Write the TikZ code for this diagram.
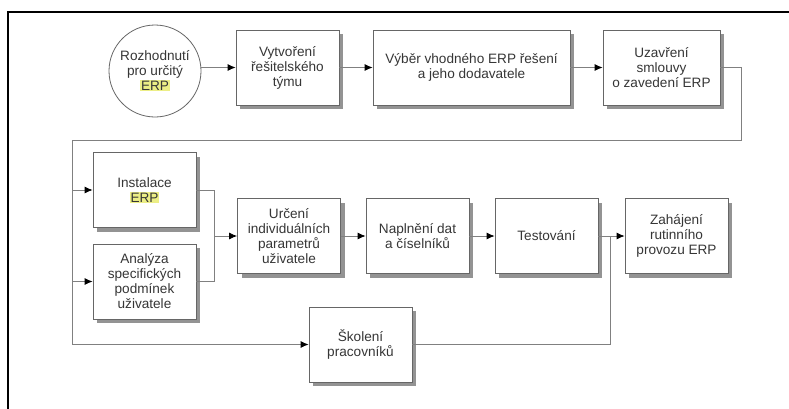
\documentclass[tikz,border=0pt]{standalone}
\usepackage{fontspec}
\setmainfont{Liberation Sans}
\usetikzlibrary{arrows.meta,shadows}
\definecolor{txt}{HTML}{363636}
\definecolor{edge}{HTML}{666666}
\definecolor{wire}{HTML}{808080}
\definecolor{shade}{HTML}{939393}
\definecolor{hlyellow}{HTML}{ECEE86}
\newcommand\hlerp[1]{{\setlength{\fboxsep}{0.8pt}\colorbox{hlyellow}{#1}}}
\tikzset{
  stage/.style={draw=edge, line width=0.8pt, fill=white, text=txt,
    minimum width=103pt, minimum height=75pt, inner sep=2pt,
    align=center, font=\fontsize{13.6}{15}\selectfont,
    drop shadow={shadow xshift=4pt, shadow yshift=-4pt, fill=shade, opacity=1}},
  flow/.style={draw=wire, line width=0.8pt},
  arr/.style={flow, -{Latex[length=8pt,width=7pt,color=black]}},
}
\begin{document}
\begin{tikzpicture}[x=1pt,y=-1pt]
\useasboundingbox (0,0) rectangle (789,408);
% outer frame (continues past the right and bottom edges)
\draw[line width=2pt] (8,410) -- (8,12) -- (792,12);

% first row
\node[draw=edge, line width=0.8pt, fill=white, circle, minimum size=92pt,
      inner sep=1pt, align=center, text=txt, font=\fontsize{13.6}{15}\selectfont]
      (decide) at (155,71) {Rozhodnutí\\pro určitý\\\hlerp{ERP}};
\node[stage] (team) at (287.5,67.5) {Vytvoření\\řešitelského\\týmu};
\node[stage, minimum width=197pt] (select) at (471.5,67.5) {Výběr vhodného ERP řešení\\a jeho dodavatele};
\node[stage, minimum width=117pt] (contract) at (661.5,67.5) {Uzavření\\smlouvy\\o zavedení ERP};

% second block
\node[stage] (install) at (144.5,190) {Instalace\\\hlerp{ERP}};
\node[stage] (analysis) at (144.5,281.5) {Analýza\\specifických\\podmínek\\uživatele};
\node[stage] (params) at (289,236) {Určení\\individuálních\\parametrů\\uživatele};
\node[stage] (data) at (417.5,236) {Naplnění dat\\a číselníků};
\node[stage] (test) at (546.5,236) {Testování};
\node[stage] (golive) at (676.5,236) {Zahájení\\rutinního\\provozu ERP};
\node[stage] (training) at (360.5,344.5) {Školení\\pracovníků};

% routing points
\coordinate (r1) at (741,67.5);
\coordinate (r2) at (741,140);
\coordinate (r3) at (72,140);
\coordinate (r4) at (72,344.5);
\coordinate (ja) at (72,190);
\coordinate (jb) at (72,281.5);
\coordinate (m1) at (214,190);
\coordinate (m2) at (214,281.5);
\coordinate (mj) at (214,236);
\coordinate (tj) at (610,236);
\coordinate (tb) at (610,344.5);

% first row arrows
\draw[arr] (decide.east |- team.west) -- (team.west);
\draw[arr] (team) -- (select);
\draw[arr] (select) -- (contract);

% feedback line to the second block
\draw[flow] (contract.east) -- (r1) -- (r2) -- (r3) -- (r4);
\draw[arr] (r4) -- (training.west);
\draw[arr] (ja) -- (install.west);
\draw[arr] (jb) -- (analysis.west);

% merge of installation and analysis
\draw[flow] (install.east) -- (m1) -- (m2) -- (analysis.east);
\draw[arr] (mj) -- (params.west);

% second row arrows
\draw[arr] (params) -- (data);
\draw[arr] (data) -- (test);
\draw[arr] (test) -- (golive);
\draw[flow] (training.east) -- (tb) -- (tj);
\end{tikzpicture}
\end{document}
